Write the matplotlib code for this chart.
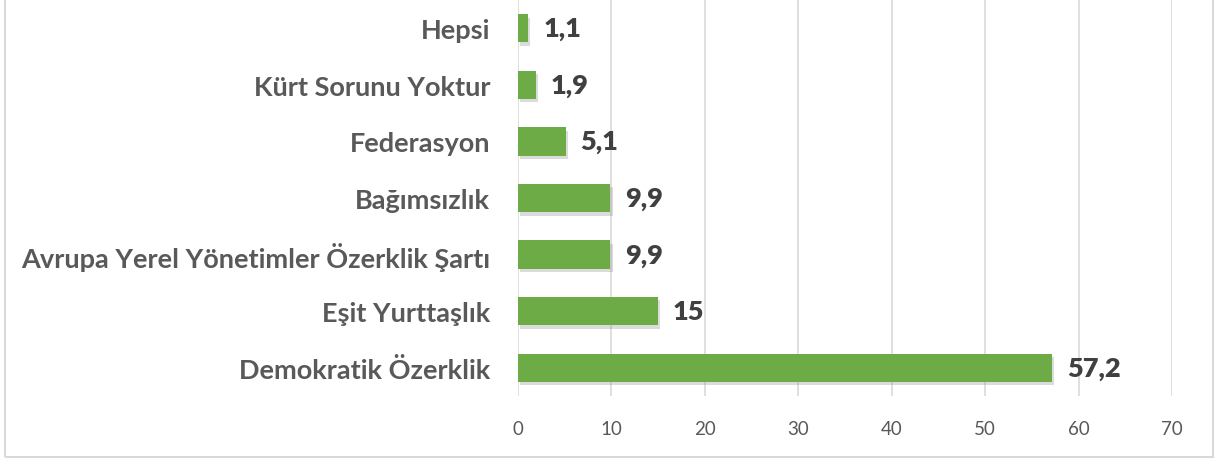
import matplotlib.pyplot as plt
import matplotlib.patheffects as pe
from matplotlib.patches import Rectangle

categories = ['Demokratik Özerklik', 'Eşit Yurttaşlık',
              'Avrupa Yerel Yönetimler Özerklik Şartı', 'Bağımsızlık',
              'Federasyon', 'Kürt Sorunu Yoktur', 'Hepsi']
values = [57.2, 15, 9.9, 9.9, 5.1, 1.9, 1.1]
value_labels = ['57,2', '15', '9,9', '9,9', '5,1', '1,9', '1,1']
x_ticks = [0, 10, 20, 30, 40, 50, 60, 70]

plt.rcParams['font.family'] = ['Lato', 'DejaVu Sans']
text_col = '#595959'

fig = plt.figure(figsize=(12.15, 4.6), dpi=100)
ax = fig.add_axes([518 / 1215, 1 - 397 / 460, 654 / 1215, 396 / 460])

bars = ax.barh(range(len(categories)), values, height=0.5, color='#6CAB45', zorder=3)
for b in bars:
    b.set_path_effects([pe.SimplePatchShadow(offset=(1.5, -2.5), shadow_rgbFace='#999999', alpha=0.35),
                        pe.Normal()])

for i, (v, lab) in enumerate(zip(values, value_labels)):
    ax.text(v + 1.6, i, lab, va='center', ha='left', fontsize=19.5,
            fontweight='heavy', color='#404040')

ax.set_xlim(0, 70)
ax.set_ylim(-0.5, len(categories) - 0.5)
ax.set_xticks(x_ticks)
ax.set_xticklabels([str(t) for t in x_ticks], fontsize=13.5, color=text_col)
ax.set_yticks(range(len(categories)))
ax.set_yticklabels(categories, fontsize=19.5, fontweight='bold', color=text_col)
ax.tick_params(axis='both', length=0)
ax.tick_params(axis='x', pad=17)
ax.tick_params(axis='y', pad=20)
ax.grid(axis='x', color='#d9d9d9', linewidth=1.2, zorder=0)
for s in ax.spines.values():
    s.set_visible(False)

# outer chart border
fig.patches.append(Rectangle((5 / 1215, 2 / 460), 1208 / 1215, 470 / 460,
                             transform=fig.transFigure, fill=False,
                             edgecolor='#d9d9d9', linewidth=1.5))

fig.savefig('out.png', dpi=100)
